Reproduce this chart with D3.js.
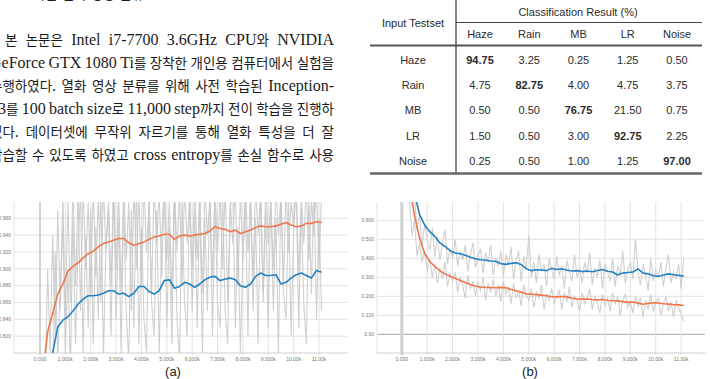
<!DOCTYPE html>
<html lang="ko">
<head>
<meta charset="UTF-8" />
<title>Document</title>
<script src="https://d3js.org/d3.v7.min.js"></script>
<style>
  body { margin: 0; background: #fff; }
</style>
</head>
<body>
<svg id="svg" width="710" height="379"></svg>
<script>
// ---------- 데이터 ----------
const headingText = ['2.', '학습 결과 영상 분류']
const bodyLines = [
  '본 논문은 Intel i7-7700 3.6GHz CPU와 NVIDIA',
  'GeForce GTX 1080 Ti를 장착한 개인용 컴퓨터에서 실험을',
  '수행하였다. 열화 영상 분류를 위해 사전 학습된 Inception-',
  'v3를 100 batch size로 11,000 step까지 전이 학습을 진행하',
  '였다. 데이터셋에 무작위 자르기를 통해 열화 특성을 더 잘',
  '학습할 수 있도록 하였고 cross entropy를 손실 함수로 사용'
]

const tableCols = ['Haze', 'Rain', 'MB', 'LR', 'Noise']
const tableRows = ['Haze', 'Rain', 'MB', 'LR', 'Noise']
const tableValues = [
  [94.75, 3.25, 0.25, 1.25, 0.50],
  [4.75, 82.75, 4.00, 4.75, 3.75],
  [0.50, 0.50, 76.75, 21.50, 0.75],
  [1.50, 0.50, 3.00, 92.75, 2.25],
  [0.25, 0.50, 1.00, 1.25, 97.00]
]

const stepTicks = [0, 1000, 2000, 3000, 4000, 5000, 6000, 7000, 8000, 9000, 10000, 11000]
const stepLabels = ['0.000', '1.000k', '2.000k', '3.000k', '4.000k', '5.000k', '6.000k', '7.000k', '8.000k', '9.000k', '10.00k', '11.00k']
const accTicks = [0.82, 0.84, 0.86, 0.88, 0.90, 0.92, 0.94, 0.96]
const accLabels = ['0.820', '0.840', '0.860', '0.880', '0.900', '0.920', '0.940', '0.960']
const lossTicks = [0, 0.1, 0.2, 0.3, 0.4, 0.5, 0.6]
const lossLabels = ['0.00', '0.100', '0.200', '0.300', '0.400', '0.500', '0.600']

// (a) 정확도: 원본(회색) 100 step 간격, 평활(색) 200 step 간격
const rawAccTrain = [ // 200 부터
  0.76, 0.90, 0.80, 0.94, 0.82, 0.97, 0.85, 0.99, 0.84,
  0.98, 0.86, 1.00, 0.88, 0.99, 0.85, 1.00, 0.90, 0.98, 0.87,
  1.00, 0.89, 0.99, 0.86, 1.00, 0.92, 0.98, 0.88, 1.00, 0.90,
  0.99, 0.87, 1.00, 0.91, 0.98, 0.85, 1.00, 0.90, 0.99, 0.88,
  1.00, 0.92, 0.98, 0.87, 1.00, 0.93, 0.99, 0.89, 1.00, 0.91,
  0.98, 0.86, 1.00, 0.92, 0.99, 0.88, 1.00, 0.93, 0.98, 0.90,
  1.00, 0.91, 0.99, 0.87, 1.00, 0.94, 0.98, 0.89, 1.00, 0.92,
  0.99, 0.90, 1.00, 0.86, 0.98, 0.93, 1.00, 0.88, 0.99, 0.91,
  1.00, 0.92, 0.98, 0.89, 1.00, 0.94, 0.99, 0.87, 1.00, 0.93,
  0.98, 0.90, 1.00, 0.94, 0.99, 0.88, 1.00, 0.92, 0.98, 0.95,
  1.00, 0.89, 0.99, 0.93, 1.00, 0.91, 0.98, 0.94, 1.00, 0.90,
  0.99
]
const rawAccVal = [ // 500 부터
  0.76, 0.92, 0.79, 0.88, 0.95, 0.80,
  0.90, 0.78, 0.96, 0.81, 0.93, 0.99, 0.80, 0.94, 0.83, 0.97,
  0.81, 0.95, 0.84, 1.00, 0.79, 0.93, 0.97, 0.82, 1.00, 0.84,
  0.96, 0.80, 0.98, 0.85, 0.79, 0.97, 0.83, 1.00, 0.81, 0.95,
  0.84, 0.80, 0.99, 0.86, 0.82, 0.97, 0.80, 0.94, 1.00, 0.83,
  0.95, 0.81, 1.00, 0.84, 0.79, 0.98, 0.86, 0.82, 1.00, 0.85,
  0.97, 0.83, 0.99, 0.80, 0.96, 0.85, 1.00, 0.82, 0.98, 0.86,
  0.83, 0.99, 0.85, 0.81, 0.97, 1.00, 0.83, 0.95, 0.80, 0.92,
  0.98, 0.82, 1.00, 0.85, 0.96, 0.81, 1.00, 0.86, 0.97, 0.83,
  0.99, 0.85, 0.96, 0.80, 1.00, 0.87, 0.84, 0.98, 0.82, 0.95,
  1.00, 0.83, 0.97, 0.86, 0.81, 0.99, 0.87, 1.00, 0.84, 0.96,
  0.85
]
const smoothAccTrain = [ // 100 부터
  0.770, 0.825, 0.847, 0.870, 0.882, 0.897, 0.903, 0.907, 0.913, 0.918,
  0.921, 0.926, 0.930, 0.932, 0.934, 0.936, 0.936, 0.931, 0.928, 0.930,
  0.932, 0.935, 0.938, 0.939, 0.941, 0.941, 0.935, 0.939, 0.940, 0.939,
  0.940, 0.941, 0.942, 0.945, 0.950, 0.948, 0.947, 0.944, 0.946, 0.942,
  0.944, 0.946, 0.949, 0.951, 0.950, 0.950, 0.951, 0.953, 0.955, 0.952,
  0.950, 0.951, 0.954, 0.954, 0.956, 0.955
]
const smoothAccVal = [ // 500 부터
  0.800, 0.831, 0.839, 0.843, 0.850, 0.858, 0.864, 0.868,
  0.868, 0.869, 0.871, 0.874, 0.874, 0.870, 0.871, 0.867, 0.871, 0.879,
  0.879, 0.873, 0.870, 0.874, 0.886, 0.887, 0.877, 0.879, 0.884, 0.882,
  0.878, 0.882, 0.887, 0.890, 0.891, 0.886, 0.888, 0.889, 0.887, 0.880,
  0.878, 0.882, 0.891, 0.895, 0.892, 0.892, 0.893, 0.882, 0.884, 0.889,
  0.893, 0.895, 0.892, 0.889, 0.898, 0.896
]

// (b) 손실
const rawLossTrain = [ // 300 부터
  0.70, 0.52, 0.60, 0.41, 0.48, 0.38, 0.44, 0.33,
  0.40, 0.30, 0.37, 0.27, 0.35, 0.29, 0.38, 0.25, 0.32, 0.28,
  0.33, 0.22, 0.30, 0.26, 0.19, 0.31, 0.24, 0.28, 0.20, 0.27,
  0.23, 0.30, 0.18, 0.27, 0.22, 0.29, 0.20, 0.26, 0.17, 0.28,
  0.21, 0.25, 0.16, 0.27, 0.19, 0.23, 0.15, 0.26, 0.20, 0.18,
  0.24, 0.14, 0.22, 0.19, 0.26, 0.13, 0.21, 0.18, 0.24, 0.16,
  0.20, 0.23, 0.13, 0.22, 0.17, 0.25, 0.14, 0.20, 0.18, 0.12,
  0.22, 0.16, 0.19, 0.24, 0.13, 0.20, 0.17, 0.11, 0.21, 0.15,
  0.19, 0.12, 0.22, 0.16, 0.20, 0.10, 0.18, 0.21, 0.14, 0.17,
  0.11, 0.20, 0.15, 0.19, 0.09, 0.18, 0.13, 0.21, 0.12, 0.17,
  0.19, 0.10, 0.16, 0.20, 0.12, 0.17, 0.09, 0.18, 0.14, 0.11,
  0.07
]
const rawLossVal = [ // 500 부터
  0.72, 0.55, 0.63, 0.46, 0.58, 0.50,
  0.44, 0.56, 0.41, 0.52, 0.39, 0.48, 0.55, 0.37, 0.45, 0.40,
  0.50, 0.36, 0.44, 0.39, 0.47, 0.33, 0.42, 0.48, 0.35, 0.41,
  0.45, 0.32, 0.43, 0.38, 0.47, 0.31, 0.40, 0.36, 0.44, 0.30,
  0.42, 0.37, 0.46, 0.29, 0.39, 0.44, 0.28, 0.41, 0.35, 0.52,
  0.30, 0.38, 0.27, 0.42, 0.33, 0.37, 0.25, 0.40, 0.34, 0.29,
  0.41, 0.31, 0.36, 0.24, 0.39, 0.33, 0.28, 0.42, 0.30, 0.35,
  0.27, 0.38, 0.32, 0.43, 0.26, 0.35, 0.30, 0.39, 0.24, 0.37,
  0.33, 0.28, 0.40, 0.25, 0.36, 0.31, 0.44, 0.27, 0.34, 0.38,
  0.29, 0.50, 0.33, 0.26, 0.37, 0.31, 0.23, 0.40, 0.28, 0.34,
  0.30, 0.38, 0.25, 0.35, 0.42, 0.27, 0.33, 0.29, 0.37, 0.24,
  0.40
]
const smoothLossTrain = [ // 300 부터
  0.780, 0.626, 0.505, 0.425, 0.383, 0.358, 0.334, 0.318, 0.305,
  0.295, 0.283, 0.272, 0.262, 0.253, 0.249, 0.247, 0.246, 0.245, 0.247,
  0.245, 0.236, 0.229, 0.222, 0.213, 0.211, 0.209, 0.206, 0.203, 0.198,
  0.197, 0.199, 0.197, 0.190, 0.186, 0.185, 0.186, 0.183, 0.181, 0.183,
  0.179, 0.177, 0.176, 0.172, 0.168, 0.170, 0.164, 0.158, 0.163, 0.166,
  0.165, 0.161, 0.159, 0.156, 0.155, 0.152
]
const smoothLossVal = [ // 500 부터
  0.740, 0.630, 0.575, 0.540, 0.515, 0.481, 0.462, 0.440,
  0.428, 0.424, 0.416, 0.405, 0.397, 0.392, 0.390, 0.386, 0.384, 0.372,
  0.368, 0.373, 0.376, 0.367, 0.345, 0.335, 0.340, 0.338, 0.335, 0.347,
  0.341, 0.345, 0.337, 0.333, 0.335, 0.330, 0.333, 0.329, 0.336, 0.341,
  0.332, 0.328, 0.312, 0.322, 0.325, 0.328, 0.344, 0.322, 0.318, 0.308,
  0.305, 0.312, 0.318, 0.313, 0.310, 0.306
]

const orange = '#ee774d'
const blue = '#2581c2'
const rawGray = '#c8c8c8'

const svg = d3.select('#svg')

// ---------- 본문 (양쪽 정렬) ----------
const hangul = /([\uAC00-\uD7A3]+)/

function addWord(g, word, y) {
  const t = g.append('text').attr('y', y).attr('fill', '#1b1b1b')
  word.split(hangul).filter(s => s).forEach(run => {
    const ko = /[\uAC00-\uD7A3]/.test(run)
    t.append('tspan').text(run)
      .attr('font-family', ko ? '"Noto Sans CJK KR"' : '"Liberation Serif"')
      .attr('font-size', ko ? 13.5 : 16)
  })
  return t
}

function layLine(words, y, x0, x1, gapFixed) {
  const g = svg.append('g')
  const nodes = words.map(w => addWord(g, w, y))
  const widths = nodes.map(t => t.node().getComputedTextLength())
  const gap = gapFixed != null ? gapFixed : (x1 - x0 - d3.sum(widths)) / (words.length - 1)
  let x = x0
  nodes.forEach((t, j) => { t.attr('x', x); x += widths[j] + gap })
}

// 잘린 소제목 (윗부분은 화면 밖)
layLine([headingText[0]], -1, 6, null, 0)
layLine(headingText[1].split(' '), -1, 33, null, 4)

bodyLines.forEach((line, i) => {
  layLine(line.split(' '), 45 + i * 23, i === 0 ? 5 : -10, 334)
})

// ---------- 표 ----------
const colX = d3.scalePoint().domain(tableCols).range([480, 677])
const rowY = d3.scalePoint().domain(tableRows).range([60, 161])
const tbl = svg.append('g')
  .attr('font-family', '"Liberation Sans", Arial, sans-serif')
  .attr('font-size', 11)
  .attr('fill', '#2b2b2b')
  .attr('text-anchor', 'middle')

tbl.append('line').attr('x1', 456).attr('x2', 456).attr('y1', 0).attr('y2', 173)
  .attr('stroke', '#333').attr('stroke-width', 1.2)
tbl.append('line').attr('x1', 456).attr('x2', 702).attr('y1', 22.5).attr('y2', 22.5)
  .attr('stroke', '#444').attr('stroke-width', 1.2)
tbl.append('line').attr('x1', 370).attr('x2', 702).attr('y1', 45.5).attr('y2', 45.5)
  .attr('stroke', '#555').attr('stroke-width', 2)
tbl.append('line').attr('x1', 370).attr('x2', 702).attr('y1', 173.5).attr('y2', 173.5)
  .attr('stroke', '#666').attr('stroke-width', 2.6)

tbl.append('text').attr('x', 578).attr('y', 12).attr('dy', '0.35em').text('Classification Result (%)')
tbl.append('text').attr('x', 413).attr('y', 23).attr('dy', '0.35em').text('Input Testset')

tbl.selectAll('.colhead').data(tableCols).enter().append('text')
  .attr('x', d => colX(d)).attr('y', 34.5).attr('dy', '0.35em').text(d => d)

tbl.selectAll('.rowhead').data(tableRows).enter().append('text')
  .attr('x', 413).attr('y', d => rowY(d)).attr('dy', '0.35em').text(d => d)

tableValues.forEach((row, i) => {
  const best = d3.max(row)
  tbl.selectAll('.r' + i).data(row).enter().append('text')
    .attr('x', (d, j) => colX(tableCols[j]))
    .attr('y', rowY(tableRows[i])).attr('dy', '0.35em')
    .attr('font-weight', d => d === best ? 'bold' : 'normal')
    .text(d => d.toFixed(2))
})

// ---------- 학습 곡선 ----------
function series(values, start, every) {
  return values.map((v, i) => [start + i * every, v])
}

function drawChart(cfg) {
  const x = d3.scaleLinear().domain(cfg.xDomain).range([cfg.left, cfg.right])
  const y = d3.scaleLinear().domain(cfg.yDomain).range([cfg.bottom, cfg.top])
  const g = svg.append('g')

  // 격자
  g.selectAll('.hg').data(cfg.yTicks).enter().append('line')
    .attr('x1', cfg.left).attr('x2', cfg.right)
    .attr('y1', d => y(d)).attr('y2', d => y(d))
    .attr('stroke', d => d === 0 ? '#a5a5a5' : '#e2e2e2').attr('stroke-width', 1)
  g.selectAll('.vg').data(stepTicks).enter().append('line')
    .attr('x1', d => x(d)).attr('x2', d => x(d))
    .attr('y1', cfg.top).attr('y2', cfg.bottom + 2)
    .attr('stroke', d => d === 0 ? cfg.zeroColor : '#e2e2e2')
    .attr('stroke-width', d => d === 0 ? cfg.zeroWidth : 1)
  g.append('line').attr('x1', cfg.left).attr('x2', cfg.left).attr('y1', cfg.top).attr('y2', cfg.bottom)
    .attr('stroke', '#e2e2e2')
  g.append('line').attr('x1', cfg.left).attr('x2', cfg.right).attr('y1', cfg.bottom).attr('y2', cfg.bottom)
    .attr('stroke', '#cfcfcf')

  // 눈금 글자
  g.selectAll('.yl').data(cfg.yTicks).enter().append('text')
    .attr('x', cfg.left - 3).attr('y', d => y(d)).attr('dy', '0.35em')
    .attr('text-anchor', 'end').attr('font-size', 5)
    .attr('font-family', '"Liberation Sans", Arial, sans-serif').attr('fill', '#777')
    .text((d, i) => cfg.yLabels[i])
  g.selectAll('.xl').data(stepTicks).enter().append('text')
    .attr('x', d => x(d)).attr('y', 361)
    .attr('text-anchor', 'middle').attr('font-size', 5)
    .attr('font-family', '"Liberation Sans", Arial, sans-serif').attr('fill', '#777')
    .text((d, i) => stepLabels[i])

  const clipId = 'clip-' + cfg.name
  svg.append('clipPath').attr('id', clipId).append('rect')
    .attr('x', cfg.left).attr('y', cfg.top)
    .attr('width', cfg.right - cfg.left).attr('height', cfg.bottom - cfg.top)

  const line = d3.line().x(d => x(d[0])).y(d => y(d[1]))
  const plot = g.append('g').attr('clip-path', `url(#${clipId})`)

  cfg.raw.forEach(r => {
    plot.append('path').datum(r).attr('d', line)
      .attr('fill', 'none').attr('stroke', rawGray).attr('stroke-width', 1.1).attr('opacity', 0.85)
  })
  cfg.smooth.forEach(s => {
    plot.append('path').datum(s.data).attr('d', line)
      .attr('fill', 'none').attr('stroke', s.color).attr('stroke-width', 1.6)
      .attr('stroke-linejoin', 'round')
  })

  svg.append('text').attr('x', cfg.captionX).attr('y', 376)
    .attr('text-anchor', 'middle').attr('font-size', 13)
    .attr('font-family', '"Liberation Sans", Arial, sans-serif').attr('fill', '#222')
    .text(cfg.caption)
}

drawChart({
  name: 'a', caption: '(a)', captionX: 173,
  left: 14, right: 348, top: 202, bottom: 353,
  xDomain: [-1025, 12143], yDomain: [0.80, 0.9794],
  yTicks: accTicks, yLabels: accLabels,
  zeroColor: '#c4c4c4', zeroWidth: 1.5,
  raw: [series(rawAccTrain, 200, 100), series(rawAccVal, 500, 100)],
  smooth: [
    { data: series(smoothAccVal, 500, 200), color: blue },
    { data: series(smoothAccTrain, 100, 200), color: orange }
  ]
})

drawChart({
  name: 'b', caption: '(b)', captionX: 530,
  left: 377, right: 705, top: 202, bottom: 353,
  xDomain: [-977, 11939], yDomain: [-0.0982, 0.696],
  yTicks: lossTicks, yLabels: lossLabels,
  zeroColor: '#d0d0d0', zeroWidth: 3,
  raw: [series(rawLossTrain, 300, 100), series(rawLossVal, 500, 100)],
  smooth: [
    { data: series(smoothLossVal, 500, 200), color: blue },
    { data: series(smoothLossTrain, 300, 200), color: orange }
  ]
})
</script>
</body>
</html>
